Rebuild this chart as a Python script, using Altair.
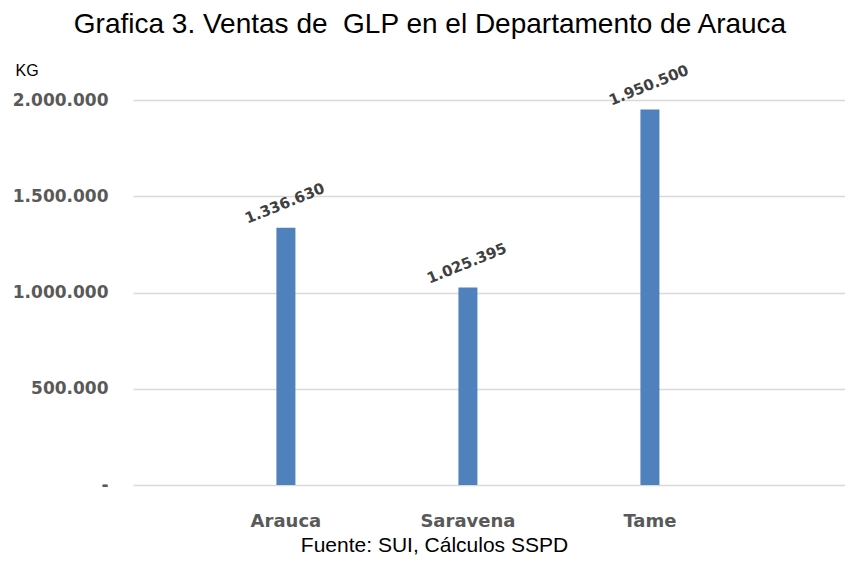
import altair as alt
import pandas as pd

categories = ["Arauca", "Saravena", "Tame"]
ventas = [1336630, 1025395, 1950500]
y_ticks = [0, 500000, 1000000, 1500000, 2000000]

df = pd.DataFrame({"Municipio": categories, "Ventas": ventas})

base = alt.Chart(df)

x = alt.X("Municipio:N", sort=categories,
          scale=alt.Scale(paddingInner=0, paddingOuter=0.456, align=0.373),
          axis=alt.Axis(title="Fuente: SUI, Cálculos SSPD", labelAngle=0,
                        domain=False, ticks=False, labelPadding=27,
                        labelFont="DejaVu Sans", labelFontWeight="bold", labelFontSize=18,
                        labelColor="#595959",
                        titleFont="Liberation Sans", titleFontSize=21, titleFontWeight="normal",
                        titleColor="#000000", titleX=301, titleY=66,
                        titleBaseline="alphabetic"))
y = alt.Y("Ventas:Q",
          scale=alt.Scale(domain=[0, 2000000], nice=False),
          axis=alt.Axis(values=y_ticks, format=",.0f",
                        labelExpr="datum.value == 0 ? '-' : datum.label",
                        domain=False, ticks=False, labelPadding=25,
                        labelFont="DejaVu Sans", labelFontWeight="bold", labelFontSize=17,
                        labelColor="#595959",
                        grid=True, gridColor="#d9d9d9", gridWidth=1.5,
                        title="KG", titleAngle=0, titleX=-118, titleY=-30,
                        titleAlign="left", titleBaseline="middle",
                        titleFont="Liberation Sans", titleFontSize=16,
                        titleFontWeight="normal", titleColor="#000000"))

bars = base.mark_bar(size=19, color="#4f81bd").encode(x=x, y=y)
labels = base.mark_text(angle=338, align="center", baseline="bottom", dx=8, dy=-15,
                        font="DejaVu Sans", fontWeight="bold", fontSize=15,
                        color="#404040").encode(
    x=alt.X("Municipio:N", sort=categories),
    y=alt.Y("Ventas:Q"),
    text=alt.Text("Ventas:Q", format=",.0f"))

chart = (bars + labels).properties(
    width=712, height=385,
    autosize=alt.AutoSizeParams(type="none"),
    padding={"left": 125, "top": 92, "right": 0, "bottom": 71},
    title=alt.TitleParams("Grafica 3. Ventas de\u00a0 GLP en el Departamento de Arauca",
                          font="Liberation Sans", fontSize=28, fontWeight="normal",
                          color="#000000", anchor="middle", dx=-59, offset=23)
).configure(
    locale={"number": {"decimal": ",", "thousands": ".", "grouping": [3],
                       "currency": ["$", ""]}}
).configure_view(stroke=None)

chart.save("out.html", embed_options={"renderer": "svg", "actions": False})
